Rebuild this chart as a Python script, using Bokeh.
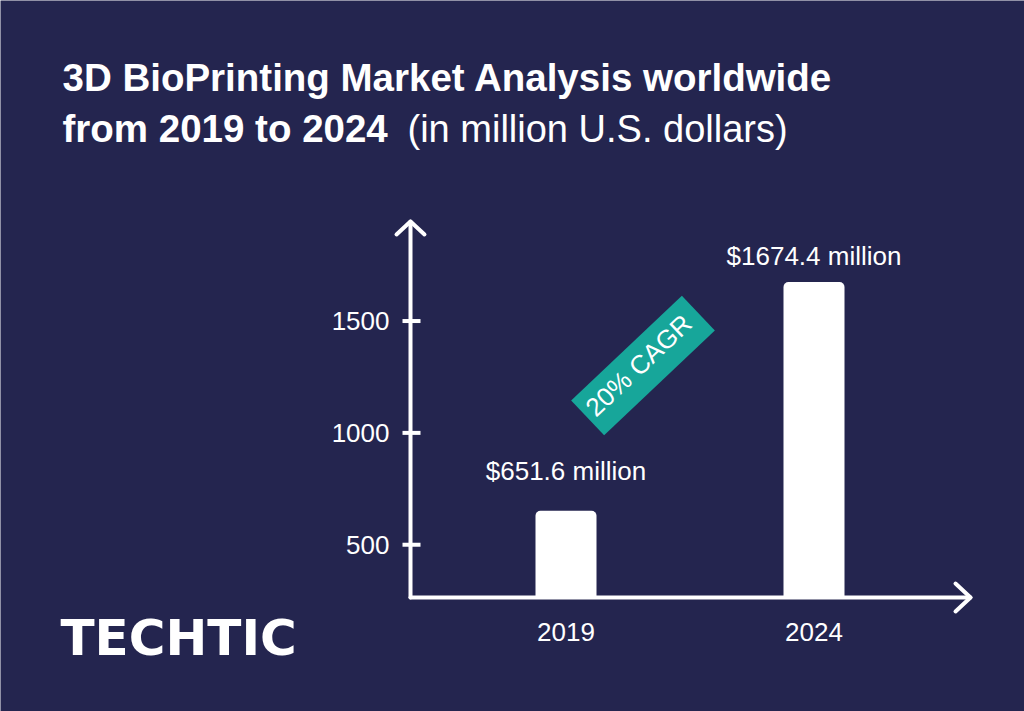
from bokeh.plotting import figure
from bokeh.models import Range1d, Label, ColumnDataSource
from bokeh.core.properties import value
from bokeh.embed import file_html
from bokeh.resources import INLINE

# ---- data ----
years = ["2019", "2024"]
market = [651.6, 1674.4]
value_labels = ["$651.6 million", "$1674.4 million"]
label_offsets = [40, 26]
y_ticks = [500, 1000, 1500]
y_tick_labels = ["500", "1000", "1500"]
title_line1 = "3D BioPrinting Market Analysis worldwide"
title_line2_bold = "from 2019 to 2024"
title_line2_light = "(in million U.S. dollars)"
cagr_text = "20% CAGR"
brand = "TECHTIC"

# ---- style / layout (canvas pixels, y measured from bottom) ----
BG = "#24254f"
TEAL = "#17a69a"
FONT = "Liberation Sans"
W, H = 1024, 711
AX_X = 410          # y-axis line x
AX_Y = H - 597      # x-axis line y
AX_TOP = H - 221    # y-axis arrow tip
AX_RIGHT = 970      # x-axis arrow tip
AXIS_BASE = 264.1   # value at the x-axis line

xs = list(range(len(years)))

p = figure(width=W, height=H, output_backend="svg", toolbar_location=None,
           x_range=Range1d(0, W), y_range=Range1d(0, H),
           x_axis_location=None, y_axis_location=None,
           min_border=0, min_border_left=0, min_border_right=0,
           min_border_top=0, min_border_bottom=0,
           background_fill_color=BG, border_fill_color=BG,
           outline_line_color=None)
p.grid.visible = False
# category scale (bar centres 248 px apart, first at x=565.5) and value scale
p.extra_x_ranges = {"cat": Range1d(-565.5 / 248, (W - 565.5) / 248)}
p.extra_y_ranges = {"val": Range1d(-245.5, 2932.9)}

# bars
p.vbar(x=xs, top=market, bottom=AXIS_BASE, width=0.246, fill_color="white",
       line_color=None, border_radius=(5, 5, 0, 0),
       x_range_name="cat", y_range_name="val")

# axis lines + arrow heads
p.line(x=[AX_X, AX_X], y=[AX_Y, AX_TOP], line_color="white", line_width=4, line_cap="round")
p.line(x=[AX_X, AX_RIGHT], y=[AX_Y, AX_Y], line_color="white", line_width=4, line_cap="round")
p.line(x=[AX_X - 14, AX_X, AX_X + 14], y=[AX_TOP - 13, AX_TOP, AX_TOP - 13],
       line_color="white", line_width=4, line_cap="round", line_join="round")
p.line(x=[AX_RIGHT - 15, AX_RIGHT, AX_RIGHT - 15], y=[AX_Y + 14, AX_Y, AX_Y - 14],
       line_color="white", line_width=4, line_cap="round", line_join="round")

# y ticks + labels
tick_src = ColumnDataSource(dict(v=y_ticks, t=y_tick_labels))
p.segment(x0=AX_X - 8, x1=AX_X + 10, y0="v", y1="v", source=tick_src,
          line_color="white", line_width=4, y_range_name="val")
p.text(x=AX_X - 21, y="v", text="t", source=tick_src, text_align="right",
       text_baseline="middle", text_color="white", text_font=value(FONT),
       text_font_size="26px", y_range_name="val")

# category labels
p.text(x=xs, y=[AX_Y - 34] * len(xs), text=years, text_align="center",
       text_baseline="middle", text_color="white", text_font=value(FONT),
       text_font_size="26px", x_range_name="cat")

# value labels
for x, v, t, off in zip(xs, market, value_labels, label_offsets):
    p.add_layout(Label(x=x, y=v, y_offset=off, text=t, text_align="center",
                       text_baseline="alphabetic", text_color="white",
                       text_font=FONT, text_font_size="26px",
                       x_range_name="cat", y_range_name="val"))

# CAGR badge
p.add_layout(Label(x=642.5, y=H - 365, text=cagr_text, angle=43.4, angle_units="deg",
                   text_align="center", text_baseline="middle", text_color="white",
                   text_font=FONT, text_font_size="26px",
                   background_fill_color=TEAL, padding=(6, 12, 6, 12)))

# titles
p.add_layout(Label(x=62, y=H - 77, text=title_line1, text_baseline="alphabetic",
                   text_color="white", text_font=FONT, text_font_size="38.5px",
                   text_font_style="bold"))
p.add_layout(Label(x=62, y=H - 128, text=title_line2_bold, text_baseline="alphabetic",
                   text_color="white", text_font=FONT, text_font_size="38.5px",
                   text_font_style="bold"))
p.add_layout(Label(x=407, y=H - 128, text=title_line2_light, text_baseline="alphabetic",
                   text_color="white", text_font=FONT, text_font_size="38px"))

# brand
p.add_layout(Label(x=60, y=H - 637, text=brand, text_baseline="alphabetic",
                   text_color="white", text_font="DejaVu Sans", text_font_size="50px",
                   text_font_style="bold"))

open("out.html", "w").write(file_html(p, INLINE))
